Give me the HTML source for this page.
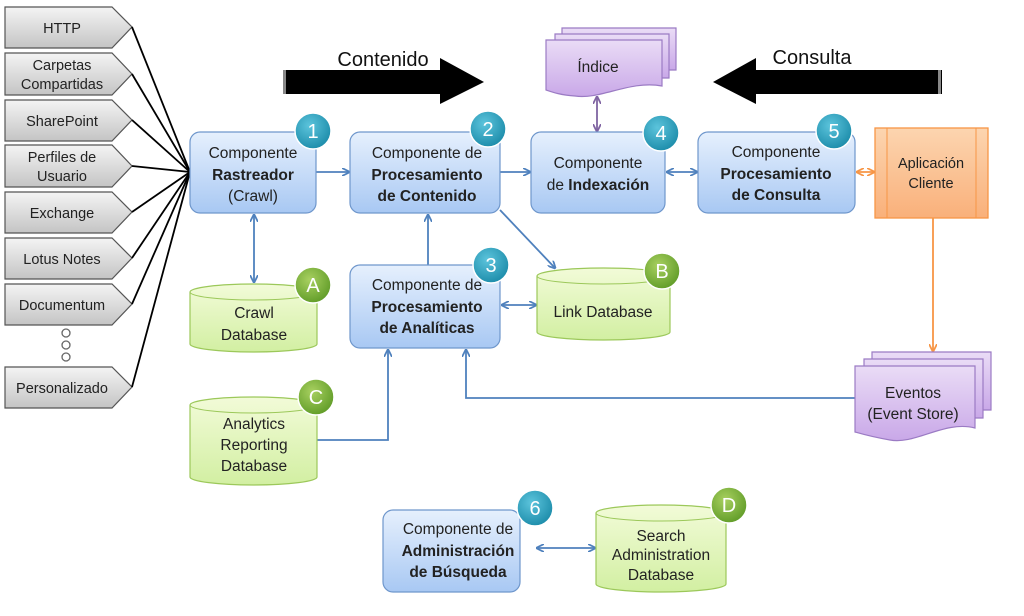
<!DOCTYPE html>
<html><head><meta charset="utf-8"><style>
html,body{margin:0;padding:0;background:#fff;}
svg{display:block;font-family:"Liberation Sans",sans-serif;}
</style></head><body>
<svg width="1024" height="616" viewBox="0 0 1024 616" xmlns="http://www.w3.org/2000/svg">
<defs>
<linearGradient id="gray" x1="0" y1="0" x2="0" y2="1"><stop offset="0" stop-color="#f4f4f4"/><stop offset="1" stop-color="#c4c4c4"/></linearGradient>
<linearGradient id="blue" x1="0" y1="0" x2="0" y2="1"><stop offset="0" stop-color="#e6f0fd"/><stop offset="1" stop-color="#a8c8f3"/></linearGradient>
<linearGradient id="green" x1="0" y1="0" x2="0" y2="1"><stop offset="0" stop-color="#f2fbd8"/><stop offset="1" stop-color="#d2efa2"/></linearGradient>
<linearGradient id="orange" x1="0" y1="0" x2="0" y2="1"><stop offset="0" stop-color="#fcd5b0"/><stop offset="1" stop-color="#f9b07a"/></linearGradient>
<linearGradient id="purple" x1="0" y1="0" x2="0" y2="1"><stop offset="0" stop-color="#eadcf6"/><stop offset="1" stop-color="#c9a8e8"/></linearGradient>
<radialGradient id="teal" cx="0.4" cy="0.35" r="0.7"><stop offset="0" stop-color="#5cc4dc"/><stop offset="1" stop-color="#1a8aa8"/></radialGradient>
<radialGradient id="lime" cx="0.4" cy="0.35" r="0.7"><stop offset="0" stop-color="#a8d060"/><stop offset="1" stop-color="#5e9a26"/></radialGradient>
<marker id="ab" markerWidth="8" markerHeight="8" refX="7" refY="4" orient="auto-start-reverse" markerUnits="userSpaceOnUse"><path d="M0,0 L8,4 L0,8" fill="none" stroke="#4f81bd" stroke-width="1.8"/></marker>
<marker id="ao" markerWidth="8" markerHeight="8" refX="7" refY="4" orient="auto-start-reverse" markerUnits="userSpaceOnUse"><path d="M0,0 L8,4 L0,8" fill="none" stroke="#f79646" stroke-width="1.8"/></marker>
<marker id="ap" markerWidth="8" markerHeight="8" refX="7" refY="4" orient="auto-start-reverse" markerUnits="userSpaceOnUse"><path d="M0,0 L8,4 L0,8" fill="none" stroke="#8064a2" stroke-width="1.8"/></marker>
</defs>

<g stroke="#555" stroke-width="1.2" fill="url(#gray)">
<path d="M5,7 H112 L132,27 L112,48 H5 Z"/>
<path d="M5,53 H112 L132,74 L112,95 H5 Z"/>
<path d="M5,100 H112 L132,120 L112,141 H5 Z"/>
<path d="M5,145 H112 L132,166 L112,187 H5 Z"/>
<path d="M5,192 H112 L132,212 L112,233 H5 Z"/>
<path d="M5,238 H112 L132,258 L112,279 H5 Z"/>
<path d="M5,284 H112 L132,304 L112,325 H5 Z"/>
<path d="M5,367 H112 L132,387 L112,408 H5 Z"/>
</g>
<g fill="none" stroke="#666" stroke-width="1.3">
<circle cx="66" cy="333" r="4"/><circle cx="66" cy="345" r="4"/><circle cx="66" cy="357" r="4"/>
</g>
<g font-size="14.5" fill="#222" text-anchor="middle">
<text x="62" y="33">HTTP</text>
<text x="62" y="70">Carpetas</text><text x="62" y="89">Compartidas</text>
<text x="62" y="126">SharePoint</text>
<text x="62" y="162">Perfiles de</text><text x="62" y="181">Usuario</text>
<text x="62" y="218">Exchange</text>
<text x="62" y="264">Lotus Notes</text>
<text x="62" y="310">Documentum</text>
<text x="62" y="393">Personalizado</text>
</g>
<g stroke="#000" stroke-width="1.8">
<line x1="132" y1="27" x2="190" y2="172"/><line x1="132" y1="74" x2="190" y2="172"/>
<line x1="132" y1="120" x2="190" y2="172"/><line x1="132" y1="166" x2="190" y2="172"/>
<line x1="132" y1="212" x2="190" y2="172"/><line x1="132" y1="258" x2="190" y2="172"/>
<line x1="132" y1="304" x2="190" y2="172"/><line x1="132" y1="387" x2="190" y2="172"/>
</g>

<path d="M283,70 H440 V58 L484,82 L440,104 V94 H283 Z" fill="#000"/>
<rect x="283" y="70" width="3" height="24" fill="#888"/>
<text x="383" y="66" font-size="20" text-anchor="middle" fill="#111">Contenido</text>
<path d="M942,70 H756 V58 L713,82 L756,104 V94 H942 Z" fill="#000"/>
<rect x="938" y="70" width="3" height="24" fill="#888"/>
<text x="812" y="64" font-size="20" text-anchor="middle" fill="#111">Consulta</text>

<g stroke="#9b7bc4" stroke-width="1.2" fill="url(#purple)">
<path d="M562,28 H676 V70 H562 Z"/>
<path d="M555,34 H669 V78 H555 Z"/>
<path d="M546,40 H662 V86 C630,80 600,100 575,96 C560,95 552,92 546,90 Z"/>
</g>
<text x="598" y="72" font-size="15.5" text-anchor="middle" fill="#222">Índice</text>

<g stroke="#4f81bd" stroke-width="1.8" fill="none">
<line x1="316" y1="172" x2="349" y2="172" marker-end="url(#ab)"/>
<line x1="500" y1="172" x2="530" y2="172" marker-end="url(#ab)"/>
<line x1="667" y1="172" x2="697" y2="172" marker-start="url(#ab)" marker-end="url(#ab)"/>
<line x1="254" y1="215" x2="254" y2="282" marker-start="url(#ab)" marker-end="url(#ab)"/>
<line x1="428" y1="265" x2="428" y2="215" marker-end="url(#ab)"/>
<line x1="500" y1="210" x2="555" y2="268" marker-end="url(#ab)"/>
<line x1="502" y1="305" x2="536" y2="305" marker-start="url(#ab)" marker-end="url(#ab)"/>
<polyline points="317,440 388,440 388,350" marker-end="url(#ab)"/>
<polyline points="855,398 466,398 466,350" marker-end="url(#ab)"/>
<line x1="537" y1="548" x2="595" y2="548" marker-start="url(#ab)" marker-end="url(#ab)"/>
</g>
<line x1="597" y1="97" x2="597" y2="131" stroke="#8064a2" stroke-width="1.8" marker-start="url(#ap)" marker-end="url(#ap)"/>
<line x1="857" y1="172" x2="874" y2="172" stroke="#f79646" stroke-width="1.8" marker-start="url(#ao)" marker-end="url(#ao)"/>
<line x1="933" y1="218" x2="933" y2="351" stroke="#f79646" stroke-width="1.8" marker-end="url(#ao)"/>

<g stroke="#6f97cc" stroke-width="1.2" fill="url(#blue)">
<rect x="190" y="132" width="126" height="81" rx="10"/>
<rect x="350" y="132" width="150" height="81" rx="10"/>
<rect x="531" y="132" width="134" height="81" rx="10"/>
<rect x="698" y="132" width="157" height="81" rx="10"/>
<rect x="350" y="265" width="150" height="83" rx="10"/>
<rect x="383" y="510" width="137" height="82" rx="10"/>
</g>
<g font-size="15.5" fill="#222" text-anchor="middle">
<text x="253" y="158">Componente</text><text x="253" y="180" font-weight="bold">Rastreador</text><text x="253" y="201">(Crawl)</text>
<text x="427" y="158">Componente de</text><text x="427" y="180" font-weight="bold">Procesamiento</text><text x="427" y="201" font-weight="bold">de Contenido</text>
<text x="598" y="168">Componente</text><text x="598" y="190">de <tspan font-weight="bold">Indexación</tspan></text>
<text x="776" y="157">Componente</text><text x="776" y="179" font-weight="bold">Procesamiento</text><text x="776" y="200" font-weight="bold">de Consulta</text>
<text x="427" y="290">Componente de</text><text x="427" y="312" font-weight="bold">Procesamiento</text><text x="427" y="333" font-weight="bold">de Analíticas</text>
<text x="458" y="534">Componente de</text><text x="458" y="556" font-weight="bold">Administración</text><text x="458" y="577" font-weight="bold">de Búsqueda</text>
</g>

<rect x="875" y="128" width="113" height="90" fill="url(#orange)" stroke="#f79646" stroke-width="1.3"/>
<line x1="887" y1="128" x2="887" y2="218" stroke="#f79646" stroke-width="1"/>
<line x1="976" y1="128" x2="976" y2="218" stroke="#f79646" stroke-width="1"/>
<text x="931" y="168" font-size="14.5" text-anchor="middle" fill="#222">Aplicación</text>
<text x="931" y="188" font-size="14.5" text-anchor="middle" fill="#222">Cliente</text>

<g stroke="#9b7bc4" stroke-width="1.2" fill="url(#purple)">
<path d="M872,352 H991 V410 H872 Z"/>
<path d="M864,359 H983 V418 H864 Z"/>
<path d="M855,366 H975 V428 C945,420 915,445 890,440 C872,437 862,434 855,432 Z"/>
</g>
<text x="913" y="398" font-size="15.5" text-anchor="middle" fill="#222">Eventos</text>
<text x="913" y="419" font-size="15.5" text-anchor="middle" fill="#222">(Event Store)</text>

<g stroke="#9cc85a" stroke-width="1.2" fill="url(#green)">
<path d="M190,292 A63.5,8 0 0 1 317,292 V344 A63.5,8 0 0 1 190,344 Z"/>
<path d="M537,276 A66.5,8 0 0 1 670,276 V332 A66.5,8 0 0 1 537,332 Z"/>
<path d="M190,405 A63.5,8 0 0 1 317,405 V477 A63.5,8 0 0 1 190,477 Z"/>
<path d="M596,513 A65,8 0 0 1 726,513 V584 A65,8 0 0 1 596,584 Z"/>
</g>
<g fill="none" stroke="#9cc85a" stroke-width="1">
<path d="M190,292 A63.5,8 0 0 0 317,292"/>
<path d="M537,276 A66.5,8 0 0 0 670,276"/>
<path d="M190,405 A63.5,8 0 0 0 317,405"/>
<path d="M596,513 A65,8 0 0 0 726,513"/>
</g>
<g font-size="15.5" fill="#222" text-anchor="middle">
<text x="254" y="318">Crawl</text><text x="254" y="340">Database</text>
<text x="603" y="317">Link Database</text>
<text x="254" y="429">Analytics</text><text x="254" y="450">Reporting</text><text x="254" y="471">Database</text>
<text x="661" y="541">Search</text><text x="661" y="560">Administration</text><text x="661" y="580">Database</text>
</g>

<g stroke="#fff" stroke-width="1.5">
<circle cx="313" cy="131" r="18" fill="url(#teal)"/>
<circle cx="488" cy="129" r="18" fill="url(#teal)"/>
<circle cx="661" cy="133" r="18" fill="url(#teal)"/>
<circle cx="834" cy="131" r="18" fill="url(#teal)"/>
<circle cx="491" cy="265" r="18" fill="url(#teal)"/>
<circle cx="535" cy="508" r="18" fill="url(#teal)"/>
<circle cx="313" cy="285" r="18" fill="url(#lime)"/>
<circle cx="662" cy="271" r="18" fill="url(#lime)"/>
<circle cx="316" cy="397" r="18" fill="url(#lime)"/>
<circle cx="729" cy="505" r="18" fill="url(#lime)"/>
</g>
<g font-size="20" fill="#fff" text-anchor="middle">
<text x="313" y="138">1</text><text x="488" y="136">2</text><text x="661" y="140">4</text>
<text x="834" y="138">5</text><text x="491" y="272">3</text><text x="535" y="515">6</text>
<text x="313" y="292">A</text><text x="662" y="278">B</text><text x="316" y="404">C</text><text x="729" y="512">D</text>
</g>
</svg>
</body></html>
